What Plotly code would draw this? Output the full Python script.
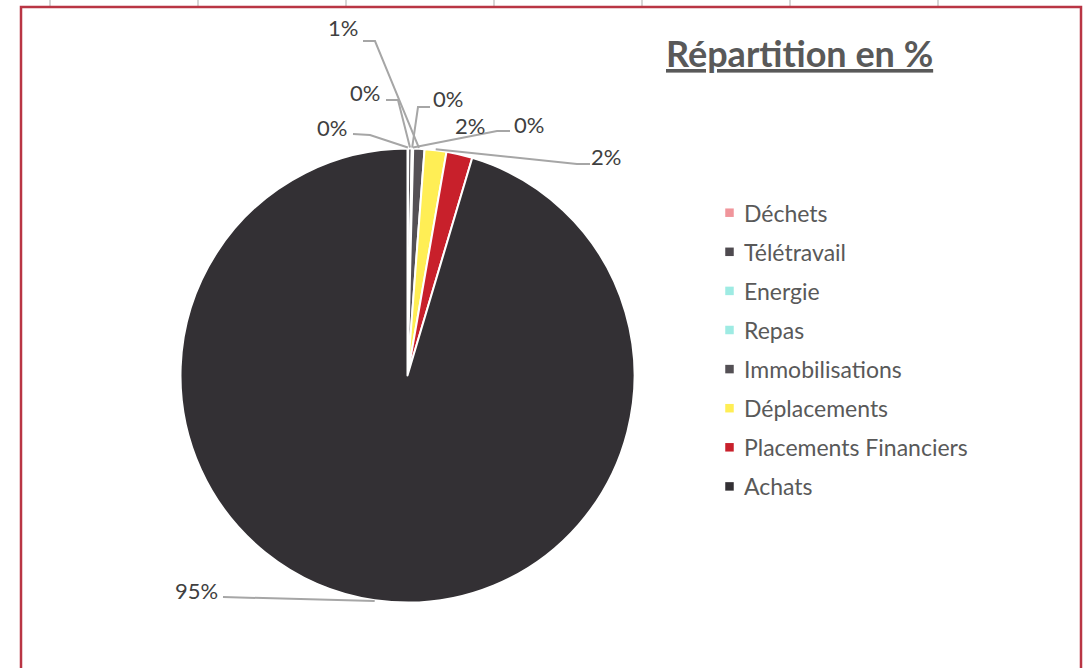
import math
import plotly.graph_objects as go

# ---- data ----
categories = ["Déchets", "Télétravail", "Energie", "Repas", "Immobilisations",
              "Déplacements", "Placements Financiers", "Achats"]
values = [0.05, 0.25, 0.05, 0.05, 0.8, 1.55, 1.85, 95.4]
colors = ["#F0959B", "#4E4A4F", "#9EEBE3", "#9EEBE3", "#545055",
          "#FFEE55", "#C8202B", "#333034"]
title_text = "Répartition en %"

# ---- layout helpers (pixels -> paper) ----
W, H = 1089, 668
def px(x):
    return x / W
def py(y):
    return 1 - y / H

CX, CY, R = 407.5, 375.5, 227.0

# label text positions (pixels) and leader line knees (label side start, knee)
label_pos = [(332, 128), (365, 93), (448, 99), (529, 124), (343, 27),
             (606, 157), (470, 126), (196, 590)]
leaders = [((353, 134), (370, 135)), ((386, 100), (398, 100)),
           ((430, 107), (418, 107)), ((510, 131), (497, 131)),
           ((363, 41), (375, 41)), ((590, 164), (577, 164)),
           None, ((223, 597), None)]

fig = go.Figure()
fig.add_trace(go.Pie(
    labels=categories, values=values, sort=False, direction="clockwise",
    rotation=0, textinfo="none", hoverinfo="label+percent",
    marker=dict(colors=colors, line=dict(color="white", width=2)),
    domain=dict(x=[px(CX - R), px(CX + R)], y=[py(CY + R), py(CY - R)]),
    showlegend=False,
))

shapes = []
annotations = []

# frame & spreadsheet grid stubs
for gx in [50, 198, 346, 494, 642, 790, 938]:
    shapes.append(dict(type="line", xref="paper", yref="paper",
                       x0=px(gx), x1=px(gx), y0=py(0), y1=py(6),
                       line=dict(color="#D6D6D6", width=2)))
shapes.append(dict(type="rect", xref="paper", yref="paper",
                   x0=px(21), x1=px(1081), y0=py(7), y1=py(720),
                   line=dict(color="#B93544", width=2.5)))

# data labels & leader lines
total = sum(values)
cum = 0.0
for i, (cat, v) in enumerate(zip(categories, values)):
    mid = (cum + v / 2) / total * 2 * math.pi
    cum += v
    ex = CX + (R + 1) * math.sin(mid)
    ey = CY - (R + 1) * math.cos(mid)
    pct = f"{round(v / total * 100):.0f}%"
    lx, ly = label_pos[i]
    annotations.append(dict(x=px(lx), y=py(ly), xref="paper", yref="paper",
                            text=pct, showarrow=False,
                            font=dict(family="Lato", size=22, color="#404040"),
                            xanchor="center", yanchor="middle"))
    ld = leaders[i]
    if ld is not None:
        pts = [ld[0]] + ([ld[1]] if ld[1] is not None else []) + [(ex, ey)]
        path = "M " + " L ".join(f"{px(a)},{py(b)}" for a, b in pts)
        shapes.append(dict(type="path", xref="paper", yref="paper", path=path,
                           line=dict(color="#A6A6A6", width=2)))

# manual legend
LEG_X, LEG_Y0, LEG_DY, SQ = 729.5, 212.7, 39.1, 8.5
for i, (cat, col) in enumerate(zip(categories, colors)):
    yy = LEG_Y0 + i * LEG_DY
    shapes.append(dict(type="rect", xref="paper", yref="paper",
                       x0=px(LEG_X - SQ / 2), x1=px(LEG_X + SQ / 2),
                       y0=py(yy + SQ / 2), y1=py(yy - SQ / 2),
                       fillcolor=col, line=dict(width=0)))
    annotations.append(dict(x=px(742), y=py(yy), xref="paper", yref="paper",
                            text=cat, showarrow=False,
                            font=dict(family="Lato", size=23, color="#595959"),
                            xanchor="left", yanchor="middle"))

# title
annotations.append(dict(x=px(800), y=py(53), xref="paper", yref="paper",
                        text=f"<b>{title_text}</b>", showarrow=False,
                        font=dict(family="Lato", size=36, color="#595959",
                                  lineposition="under"),
                        xanchor="center", yanchor="middle"))

fig.update_layout(
    width=W, height=H, margin=dict(l=0, r=0, t=0, b=0),
    paper_bgcolor="white", plot_bgcolor="white",
    shapes=shapes, annotations=annotations, showlegend=False,
)

fig.write_html("out.html", config={"displayModeBar": False},
               post_script="document.body.style.margin='0';"
                           "document.body.style.overflow='hidden';")
